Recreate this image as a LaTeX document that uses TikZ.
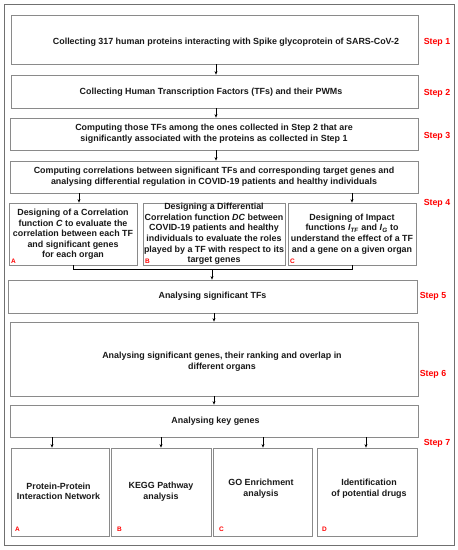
\documentclass[tikz,border=0pt]{standalone}
\usepackage{fontspec}
\setmainfont{Liberation Sans}
\usetikzlibrary{arrows.meta}
\definecolor{boxgray}{HTML}{8A8A8A}
\definecolor{framegray}{HTML}{707070}
\newcommand\mysubidx[2]{\textit{#1}\textsubscript{\textit{#2}}}
\begin{document}
\begin{tikzpicture}[x=1pt,y=-1pt,
 box/.style={draw=boxgray, line width=0.8pt, rectangle, inner sep=0pt, fill=white},
 txt/.style={font=\bfseries\fontsize{8.9}{10.6}\selectfont, align=center, inner sep=0pt, text=black!90},
 steplbl/.style={text=red, font=\bfseries\fontsize{8.8}{10}\selectfont, inner sep=0pt},
 letter/.style={text=red, font=\bfseries\fontsize{6.5}{6.5}\selectfont, inner sep=0pt, anchor=south west},
 arr/.style={-{Stealth[length=3.5pt,width=3pt]}, line width=0.6pt}]
\useasboundingbox (0,0) rectangle (458,550);
\draw[framegray, line width=1pt] (4,4) rectangle (454,545);

% boxes
\node[box, minimum width=407, minimum height=49] (b1) at (214.5,39.5) {};
\node[box, minimum width=407, minimum height=33] (b2) at (214.5,91.5) {};
\node[box, minimum width=408, minimum height=32] (b3) at (214,134) {};
\node[box, minimum width=408, minimum height=32] (b4) at (214,177) {};
\node[box, minimum width=128, minimum height=62] (b4a) at (73,234) {};
\node[box, minimum width=142, minimum height=62] (b4b) at (214,234) {};
\node[box, minimum width=128, minimum height=62] (b4c) at (352,234) {};
\node[box, minimum width=409, minimum height=33] (b5) at (212.5,296.5) {};
\node[box, minimum width=408, minimum height=74] (b6) at (214,359) {};
\node[box, minimum width=408, minimum height=32] (b7) at (214,421) {};
\node[box, minimum width=98, minimum height=88] (pa) at (60,492) {};
\node[box, minimum width=100, minimum height=88] (pb) at (161,492) {};
\node[box, minimum width=99, minimum height=88] (pc) at (262.5,492) {};
\node[box, minimum width=100, minimum height=88] (pd) at (367,492) {};

% texts
\node[txt] (t1) at (226,42) {Collecting 317 human proteins interacting with Spike glycoprotein of SARS-CoV-2};
\node[txt] (t2) at (211,92) {Collecting Human Transcription Factors (TFs) and their PWMs};
\node[txt] (t3) at (214,134) {Computing those TFs among the ones collected in Step 2 that are\\significantly associated with the proteins as collected in Step 1};
\node[txt] (t4) at (214,177) {Computing correlations between significant TFs and corresponding target genes and\\analysing differential regulation in COVID-19 patients and healthy individuals};
\node[txt] (t4a) at (73,234.5) {Designing of a Correlation\\function \textit{C} to evaluate the\\correlation between each TF\\and significant genes\\for each organ};
\node[txt] (t4b) at (214,234) {Designing a Differential\\Correlation function \textit{DC} between\\COVID-19 patients and healthy\\individuals to evaluate the roles\\played by a TF with respect to its\\target genes};
\node[txt] (t4c) at (352,234) {Designing of Impact\\functions \mysubidx{I}{TF} and \mysubidx{I}{G} to\\understand the effect of a TF\\and a gene on a given organ};
\node[txt] (t5) at (212.5,296) {Analysing significant TFs};
\node[txt] (t6) at (222,362) {Analysing significant genes, their ranking and overlap in\\different organs};
\node[txt] (t7) at (215.5,421) {Analysing key genes};
\node[txt] (ta) at (58.5,491.5) {Protein-Protein\\Interaction Network};
\node[txt] (tb) at (161,491.5) {KEGG Pathway\\analysis};
\node[txt] (tc) at (261,488.5) {GO Enrichment\\analysis};
\node[txt] (td) at (369,488.5) {Identification\\of potential drugs};

% step labels
\node[steplbl] (s1) at (437,42) {Step 1};
\node[steplbl] (s2) at (437,93) {Step 2};
\node[steplbl] (s3) at (437,136) {Step 3};
\node[steplbl] (s4) at (437,203) {Step 4};
\node[steplbl] (s5) at (433,296) {Step 5};
\node[steplbl] (s6) at (433,374) {Step 6};
\node[steplbl] (s7) at (437,443) {Step 7};

% letters
\node[letter] (l4a) at (11,264) {A};
\node[letter] (l4b) at (145,264) {B};
\node[letter] (l4c) at (290,264) {C};
\node[letter] (la) at (15,532) {A};
\node[letter] (lb) at (117,532) {B};
\node[letter] (lc) at (219,532) {C};
\node[letter] (ld) at (322,532) {D};

% arrows
\draw[arr] (b1.south -| 216,0) -- (b2.north -| 216,0);
\draw[arr] (b2.south -| 216,0) -- (b3.north -| 216,0);
\draw[arr] (b3.south -| 216,0) -- (b4.north -| 216,0);
\draw[arr] (b4.south -| 79,0) -- (b4a.north -| 79,0);
\draw[arr] (b4.south -| 352,0) -- (b4c.north);
\coordinate (m1) at (73,269);
\coordinate (m2) at (352,269);
\coordinate (m3) at (212,269);
\draw[line width=0.6pt] (b4a.south) -- (m1) -- (m2) -- (b4c.south);
\draw[arr] (m3) -- (b5.north -| m3);
\draw[arr] (b5.south -| 214,0) -- (b6.north -| 214,0);
\draw[arr] (b6.south -| 214,0) -- (b7.north -| 214,0);
\draw[arr] (b7.south -| 52,0) -- (pa.north -| 52,0);
\draw[arr] (b7.south -| 161,0) -- (pb.north -| 161,0);
\draw[arr] (b7.south -| 263,0) -- (pc.north -| 263,0);
\draw[arr] (b7.south -| 366,0) -- (pd.north -| 366,0);
\end{tikzpicture}
\end{document}
